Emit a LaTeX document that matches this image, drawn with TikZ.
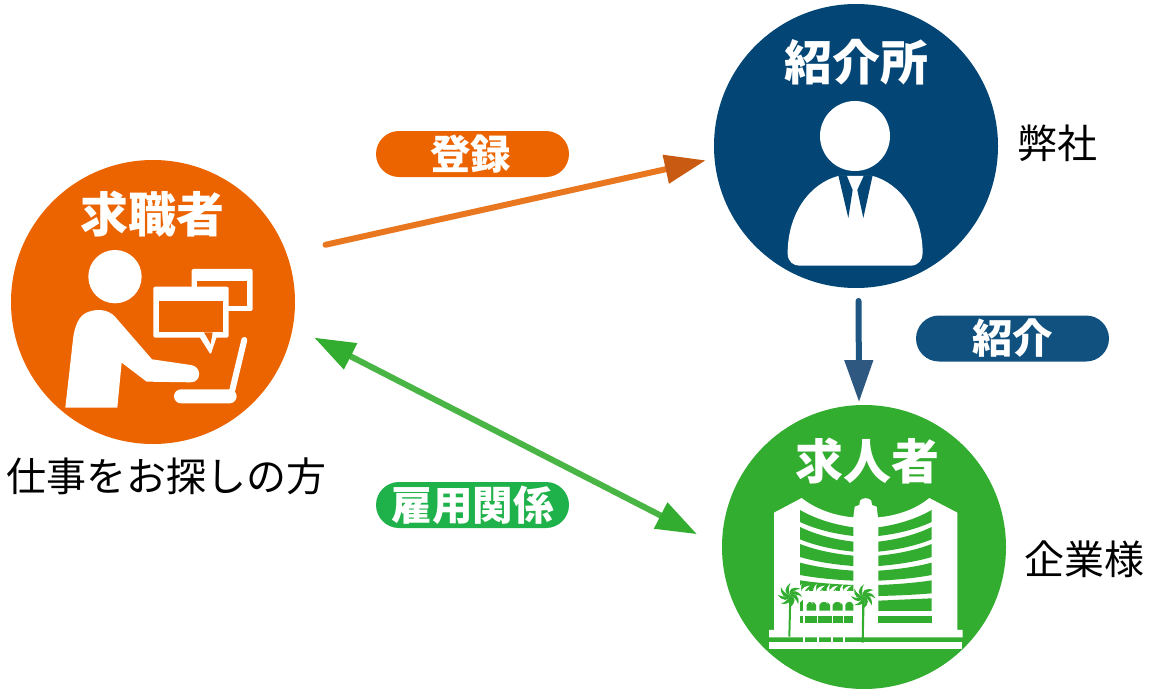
\documentclass[tikz,border=0pt]{standalone}
\usepackage{fontspec}
\setmainfont{Noto Sans CJK JP}
\usetikzlibrary{arrows.meta}
\definecolor{seekerorange}{HTML}{EC6400}
\definecolor{agencyblue}{HTML}{034676}
\definecolor{employergreen}{HTML}{33AD2F}
\definecolor{referblue}{HTML}{11517F}
\definecolor{hiregreen}{HTML}{1FB14A}
\definecolor{entryline}{HTML}{E9771F}
\definecolor{entryhead}{HTML}{C95A11}
\definecolor{hireline}{HTML}{48B544}
\definecolor{referline}{HTML}{1D5583}
\definecolor{referhead}{HTML}{2F5880}
\tikzset{
  party/.style={circle,inner sep=0pt,outer sep=0pt,minimum size=284pt},
  title/.style={text=white,font=\fontsize{48}{48}\selectfont\bfseries},
  remark/.style={text=black,font=\fontsize{40}{41}\selectfont},
  pill/.style={text=white,rounded corners=23pt,minimum width=193pt,minimum height=46pt,inner sep=0pt,font=\fontsize{40.5}{41}\selectfont\bfseries},
  link/.style={line width=6pt,line cap=round},
  pics/frond/.style={code={
    \fill[#1] (0,0) .. controls (8,-16) and (24,-16) .. (36,8) .. controls (24,-2) and (10,-2) .. (0,0);
  }}
}
\begin{document}
\begin{tikzpicture}[x=1pt,y=-1pt]
  \useasboundingbox (0,0) rectangle (1157,699);
  % the three parties
  \node[party,fill=seekerorange] (seeker) at (153,302) {};
  \node[party,fill=agencyblue] (agency) at (856,146) {};
  \node[party,fill=employergreen] (employer) at (864,547) {};
  \node[title] (seekertitle) at (152,214) {求職者};
  \node[title] (agencytitle) at (856,62) {紹介所};
  \node[title] (employertitle) at (867.5,461) {求人者};
  % remarks
  \node[remark] (seekernote) at (166,476) {仕事をお探しの方};
  \node[remark] (agencynote) at (1057,143) {弊社};
  \node[remark] (employernote) at (1084,559) {企業様};
  % connectors
  \draw[link,color=entryline,shorten <=40pt,shorten >=9pt,
    -{Triangle[length=41pt,width=28pt,color=entryhead]}] (seeker.20.4) -- (agency.185.3);
  \draw[link,color=hireline,shorten <=24pt,shorten >=28pt,
    {Triangle[length=41pt,width=28pt,color=employergreen]}-{Triangle[length=41pt,width=28pt,color=employergreen]}] (seeker.-10.4) -- (employer.180);
  \draw[link,color=referline,shorten <=13pt,shorten >=3pt,
    -{Triangle[length=42pt,width=27.5pt,color=referhead]}] (agency.-89) -- (employer.92.4);
  \node[pill,fill=seekerorange] (entrylabel) at (472.5,154) {\hspace{-4pt}登録};
  \node[pill,fill=referblue] (referlabel) at (1012.5,338.5) {紹介};
  \node[pill,fill=hiregreen] (hirelabel) at (472.5,505) {雇用関係};
  % job seeker at a laptop
  \begin{scope}[shift={(0,150)},scale=0.3333]
    \fill[white] (345,380) circle [radius=80];
    \fill[white] (196,773) -- (352,773) -- (365,638) -- (440,695) -- (572,697)
      .. controls (606,697) and (606,648) .. (572,645) -- (456,628) -- (345,500)
      .. controls (325,478) and (290,475) .. (262,487) .. controls (235,497) and (225,530) .. (220,560) -- cycle;
    \fill[white,rounded corners=2pt] (575,357) rectangle (758,483);
    \fill[seekerorange] (592,392) rectangle (742,467);
    \fill[white,rounded corners=2pt] (460,410) rectangle (686,563);
    \fill[white,rounded corners=2pt] (595,555) -- (632,614) -- (652,555) -- cycle;
    \fill[seekerorange] (477,452) rectangle (670,547);
    \fill[seekerorange] (612,547) -- (632,582) -- (638,547) -- cycle;
    \draw[white,line width=6pt,line cap=round] (733,570) -- (697,720);
    \fill[white,rounded corners=7pt] (522,718) rectangle (710,760);
  \end{scope}
  % agent in a suit
  \begin{scope}[shift={(700,0)},scale=0.3333]
    \fill[white] (465,408) circle [radius=105];
    \fill[white] (415,528) .. controls (330,550) and (263,640) .. (263,760)
      .. controls (263,785) and (280,797) .. (298,797) -- (632,797)
      .. controls (655,797) and (668,780) .. (668,760) .. controls (668,640) and (600,550) .. (518,528) -- cycle;
    \fill[agencyblue] (415,526) -- (440,526) -- (458,570) -- (445,654) -- cycle;
    \fill[agencyblue] (518,526) -- (492,526) -- (472,570) -- (490,654) -- cycle;
  \end{scope}
  % company building with palms
  \begin{scope}[shift={(770,490)},scale=0.3333]
    \fill[white] (12,68) -- (95,24) .. controls (140,60) and (200,78) .. (250,82) -- (254,50) -- (268,45) -- (270,32)
      .. controls (278,22) and (296,22) .. (304,32) -- (306,45) -- (320,50) -- (324,82)
      .. controls (375,78) and (435,60) .. (478,24) -- (562,68) -- (562,420) -- (578,420) -- (578,442)
      -- (-3,442) -- (-3,420) -- (12,420) -- cycle;
    \fill[white] (-3,456) rectangle (576,476);
    \foreach \colx in {100,140,182,218}
      \fill[white] (\colx,440) rectangle +(6,18);
    % window bands: outer top, inner top, outer bottom, inner bottom
    \foreach \ot/\it/\ob/\ib in {60/112/96/138,111/155/148/185,162/197/201/228,218/242/255/272,271/285/310/318}{
      \fill[employergreen] (90,\ot) .. controls (140,{\ot+(\it-\ot)*0.55}) and (195,{\ot+(\it-\ot)*0.85}) .. (250,\it) -- (250,\ib)
        .. controls (195,{\ob+(\ib-\ob)*0.85}) and (140,{\ob+(\ib-\ob)*0.55}) .. (90,\ob) -- cycle;
      \fill[employergreen] (485,\ot) .. controls (435,{\ot+(\it-\ot)*0.55}) and (380,{\ot+(\it-\ot)*0.85}) .. (325,\it) -- (325,\ib)
        .. controls (380,{\ob+(\ib-\ob)*0.85}) and (435,{\ob+(\ib-\ob)*0.55}) .. (485,\ob) -- cycle;
    }
    \fill[employergreen] (325,332) -- (485,325) -- (485,363) -- (325,363) -- cycle;
    \fill[employergreen] (325,377) rectangle (485,400);
    \foreach \winx/\winw in {90/10,105/35,145/40,190/28,222/28}
      \fill[employergreen] (\winx,377) rectangle +(\winw,23);
    % white palms in front of the left wing, arched windows behind them
    \fill[white] (88,302) rectangle (252,366);
    \fill[employergreen] (90,330) rectangle (100,362);
    \foreach \winx/\winw in {110/28,148/32,188/30,226/24}
      \fill[employergreen] (\winx,362) -- (\winx,345) .. controls ({\winx+4},332) and ({\winx+\winw-4},332) .. ({\winx+\winw},345) -- ({\winx+\winw},362) -- cycle;
    \foreach \palmx in {100,145,185,225}
      \foreach \frondang in {-30,20,70,110,160,210}
        \pic[rotate=\frondang,transform shape] at (\palmx,318) {frond=white};
    \foreach \frondang in {-35,5,45,100,150,190,235,280}{
      \pic[rotate=\frondang,transform shape] at (60,316) {frond=employergreen};
      \pic[rotate=\frondang,transform shape] at (280,320) {frond=employergreen};
    }
    \fill[employergreen] (55,440) -- (58,318) -- (64,318) -- (61,440) -- cycle;
    \fill[employergreen] (275,458) -- (277,320) -- (284,320) -- (281,458) -- cycle;
  \end{scope}
\end{tikzpicture}
\end{document}
